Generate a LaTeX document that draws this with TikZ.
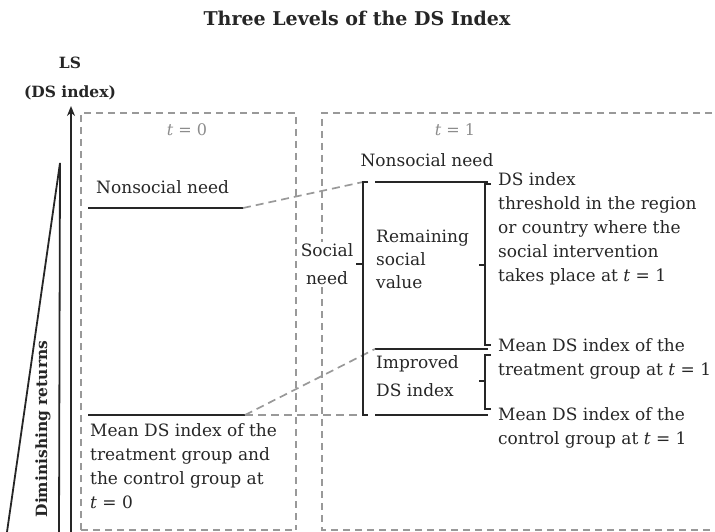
\documentclass[tikz,border=0pt]{standalone}
\usepackage{fontspec}
\setmainfont{DejaVu Serif}
\usetikzlibrary{arrows.meta}
\begin{document}
\begin{tikzpicture}[x=1pt,y=-1pt]
\tikzstyle{lbl} = [font=\fontsize{17}{24}\selectfont,text=black!85,inner sep=0,align=left];
\tikzstyle{head} = [font=\fontsize{15.5}{18}\selectfont\bfseries,text=black!85,inner sep=0];
\tikzstyle{tlbl} = [font=\fontsize{16}{18}\selectfont,text=black!45,inner sep=0];
\tikzstyle{level} = [line width=1.8,black!85];
\tikzstyle{brk} = [line width=1.8,black!85];
\tikzstyle{guide} = [line width=1.7,black!40,dash pattern=on 8pt off 5pt];
\tikzstyle{frame} = [line width=1.7,black!40,dash pattern=on 7pt off 5pt];
\tikzstyle{axis} = [line width=1.8,black!85,-{Stealth[length=10pt,width=8pt]}];
\useasboundingbox (0,0) rectangle (715,532);
\node [head,font=\fontsize{19}{22}\selectfont\bfseries] (title) at (357,18) {Three Levels of the DS Index};

% axis and diminishing returns
\coordinate (ax0) at (71,532);
\coordinate (ax1) at (71,106);
\draw [axis] (ax0) -- (ax1);
\node [head] (ls) at (70,63) {LS};
\node [head] (dsi) at (70,93) {(DS index)};
\coordinate (tr1) at (60,163);
\coordinate (tr2) at (7,532);
\coordinate (tr3) at (59,532);
\draw [level] (tr2) -- (tr1) -- (tr3);
\node [head,rotate=90] (dim) at (43,429) {Diminishing returns};

% time frames
\coordinate (f0a) at (81,530);
\coordinate (f0b) at (81,113);
\coordinate (f0c) at (296,113);
\coordinate (f0d) at (296,530);
\draw [frame] (f0a) -- (f0b) -- (f0c) -- (f0d);
\draw [frame] (f0a) -- (f0d);
\coordinate (f1a) at (322,530);
\coordinate (f1b) at (322,113);
\coordinate (f1c) at (712,113);
\coordinate (f1d) at (712,530);
\draw [frame] (f1c) -- (f1b) -- (f1a) -- (f1d);
\node [tlbl] (tz) at (187,130) {\textit{t} = 0};
\node [tlbl] (to) at (455,130) {\textit{t} = 1};

% levels at t = 0
\coordinate (ns0a) at (88,208);
\coordinate (ns0b) at (243,208);
\coordinate (mn0a) at (88,415);
\coordinate (mn0b) at (245,415);
\draw [level] (ns0a) -- (ns0b);
\draw [level] (mn0a) -- (mn0b);
\node [lbl,anchor=west] (ns0) at (96,187) {Nonsocial need};
\node [lbl,anchor=north west] (mn0) at (90,423) {Mean DS index of the\\treatment group and\\the control group at\\ \textit{t} = 0};

% levels at t = 1
\coordinate (nsA) at (375,182);
\coordinate (nsB) at (488,182);
\coordinate (imA) at (375,349);
\coordinate (imB) at (488,349);
\coordinate (ctA) at (375,415);
\coordinate (ctB) at (488,415);
\draw [level] (nsA) -- (nsB);
\draw [level] (imA) -- (imB);
\draw [level] (ctA) -- (ctB);
\node [lbl,anchor=center] (ns1) at (427,160) {Nonsocial need};

% guides between t = 0 and t = 1
\coordinate (lbT) at (363,182);
\coordinate (lbB) at (363,415);
\draw [guide] (ns0b) -- (lbT);
\draw [guide] (mn0b) -- (imA);
\draw [guide] (mn0b) -- (lbB);

% brackets
\draw [brk] (368,182) -- (lbT) -- (lbB) -- (368,415);
\draw [brk] (363,264) -- (356,264);
\draw [brk] (491,184) -- (485,184) -- (485,345) -- (491,345);
\draw [brk] (485,265) -- (479,265);
\draw [brk] (491,355) -- (485,355) -- (485,409) -- (491,409);
\draw [brk] (485,381) -- (479,381);

% labels at t = 1
\node [lbl,align=center,fill=white,inner sep=1,font=\fontsize{17}{28}\selectfont] (soc) at (327,264) {Social\\need};
\node [lbl,anchor=north west,font=\fontsize{17}{23}\selectfont] (rem) at (376,230) {Remaining\\social\\value};
\node [lbl,anchor=north west,font=\fontsize{17}{28}\selectfont] (imp) at (376,355) {Improved\\DS index};
\node [lbl,anchor=north west] (thr) at (498,172) {DS index\\threshold in the region\\or country where the\\social intervention\\takes place at \textit{t} = 1};
\node [lbl,anchor=north west] (mtr) at (498,338) {Mean DS index of the\\treatment group at \textit{t} = 1};
\node [lbl,anchor=north west] (mct) at (498,407) {Mean DS index of the\\control group at \textit{t} = 1};
\end{tikzpicture}
\end{document}
